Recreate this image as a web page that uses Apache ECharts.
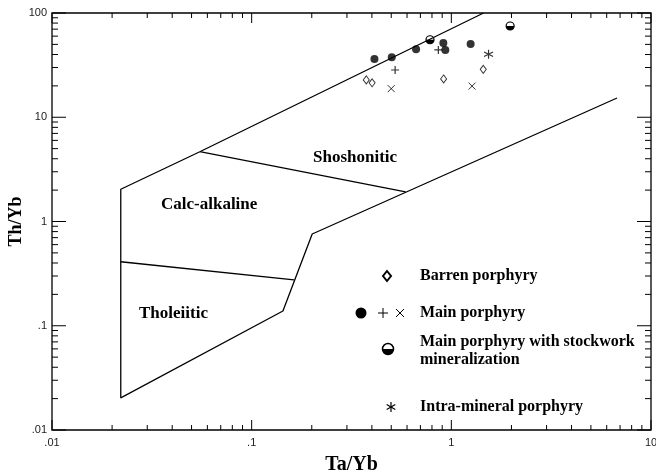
<!DOCTYPE html>
<html>
<head>
<meta charset="utf-8">
<script src="https://cdn.jsdelivr.net/npm/echarts@6/dist/echarts.min.js"></script>
<style>
html, body { margin: 0; padding: 0; background: #fff; }
#chart { width: 656px; height: 475px; }
</style>
</head>
<body>
<div id="chart"></div>
<script>
// field boundaries (Ta/Yb, Th/Yb)
var outerBoundary = [[1.45, 100], [0.055, 4.67], [0.0221, 2.04], [0.0221, 0.0203], [0.1434, 0.1384], [0.201, 0.759], [6.76, 15.3]];
var shoshoniticDivider = [[0.055, 4.67], [0.59, 1.92]];
var tholeiiticDivider = [[0.0221, 0.411], [0.163, 0.275]];

// samples
var barren = [[0.375, 22.8], [0.401, 21.4], [0.915, 23.3], [1.445, 28.8]];
var mainCircle = [[0.412, 36.2], [0.503, 37.6], [0.666, 44.9], [0.912, 51.5], [0.933, 44.2], [1.249, 50.4]];
var mainPlus = [[0.523, 28.4], [0.861, 44.2]];
var mainCross = [[0.50, 18.8], [1.27, 19.9]];
var stockwork = [[0.782, 55.4], [1.97, 75.0]];
var intraMineral = [[1.536, 40.2]];

// axes
var xDecades = [0.01, 0.1, 1, 10];
var yDecades = [0.01, 0.1, 1, 10, 100];
var xTickLabels = ['.01', '.1', '1', '10'];
var yTickLabels = ['.01', '.1', '1', '10', '100'];

var serif = '"Liberation Serif", "Times New Roman", serif';

function buildTicks(decades) {
    var out = [];
    for (var i = 0; i < decades.length; i++) {
        out.push({v: decades[i], major: 1});
        if (i < decades.length - 1) {
            for (var m = 2; m <= 9; m++) out.push({v: m * decades[i], major: 0});
        }
    }
    return out;
}
var xTicks = buildTicks(xDecades);
var yTicks = buildTicks(yDecades);
var xMin = xDecades[0], xMax = xDecades[xDecades.length - 1];
var yMin = yDecades[0], yMax = yDecades[yDecades.length - 1];

function decadeLabel(labels, decades) {
    return function (v) {
        var idx = Math.round(Math.log10(v) - Math.log10(decades[0]));
        return labels[idx] !== undefined ? labels[idx] : '';
    };
}

function tickLine(x1, y1, x2, y2) {
    return {type: 'line', shape: {x1: x1, y1: y1, x2: x2, y2: y2}, style: {stroke: '#000', lineWidth: 1}};
}

var boundaryStyle = {color: '#000', width: 1.3};

var chart = echarts.init(document.getElementById('chart'));
var option = {
    animation: false,
    backgroundColor: '#fff',
    grid: {left: 52, right: 5, top: 13, bottom: 45, containLabel: false, outerBoundsMode: 'none',
        show: true, borderColor: '#000', borderWidth: 1.3},
    xAxis: {
        type: 'log', logBase: 10, min: xMin, max: xMax,
        name: 'Ta/Yb', nameLocation: 'middle', nameGap: 25, nameMoveOverlap: false,
        nameTextStyle: {fontFamily: serif, fontWeight: 'bold', fontSize: 20, color: '#000'},
        axisLine: {show: false}, axisTick: {show: false}, splitLine: {show: false},
        axisLabel: {fontFamily: 'Liberation Sans', fontSize: 11, color: '#222', margin: 7,
            formatter: decadeLabel(xTickLabels, xDecades)}
    },
    yAxis: {
        type: 'log', logBase: 10, min: yMin, max: yMax,
        name: 'Th/Yb', nameLocation: 'middle', nameGap: 27, nameMoveOverlap: false,
        nameTextStyle: {fontFamily: serif, fontWeight: 'bold', fontSize: 18, color: '#000'},
        axisLine: {show: false}, axisTick: {show: false}, splitLine: {show: false},
        axisLabel: {fontFamily: 'Liberation Sans', fontSize: 11, color: '#222', margin: 5,
            formatter: decadeLabel(yTickLabels, yDecades)}
    },
    series: [
        {
            type: 'custom', silent: true,
            data: xTicks.map(function (t) { return [t.v, yMin, t.major]; }),
            encode: {x: 0, y: 1},
            renderItem: function (params, api) {
                var len = api.value(2) ? 10 : 5;
                var b = api.coord([api.value(0), yMin]);
                var t = api.coord([api.value(0), yMax]);
                return {type: 'group', children: [
                    tickLine(b[0], b[1], b[0], b[1] - len),
                    tickLine(t[0], t[1], t[0], t[1] + len)
                ]};
            }
        },
        {
            type: 'custom', silent: true,
            data: yTicks.map(function (t) { return [xMin, t.v, t.major]; }),
            encode: {x: 0, y: 1},
            renderItem: function (params, api) {
                var len = api.value(2) ? 14 : 6;
                var l = api.coord([xMin, api.value(1)]);
                var r = api.coord([xMax, api.value(1)]);
                return {type: 'group', children: [
                    tickLine(l[0], l[1], l[0] + len, l[1]),
                    tickLine(r[0], r[1], r[0] - len, r[1])
                ]};
            }
        },
        {type: 'line', data: outerBoundary, symbol: 'none', silent: true, lineStyle: boundaryStyle},
        {type: 'line', data: shoshoniticDivider, symbol: 'none', silent: true, lineStyle: boundaryStyle},
        {type: 'line', data: tholeiiticDivider, symbol: 'none', silent: true, lineStyle: boundaryStyle},
        {
            name: 'Barren porphyry', type: 'scatter', data: barren,
            symbol: 'diamond', symbolSize: [6, 8],
            itemStyle: {color: '#fff', borderColor: '#000', borderWidth: 1}
        },
        {
            name: 'Main porphyry', type: 'scatter', data: mainCircle,
            symbol: 'circle', symbolSize: 8, itemStyle: {color: '#000'}
        },
        {
            name: 'Main porphyry', type: 'scatter', data: mainPlus,
            symbol: 'path://M5,0L5,10M0,5L10,5', symbolSize: 8,
            itemStyle: {color: '#000', borderColor: '#000', borderWidth: 1.2}
        },
        {
            name: 'Main porphyry', type: 'scatter', data: mainCross,
            symbol: 'path://M0,0L10,10M0,10L10,0', symbolSize: 7,
            itemStyle: {color: '#000', borderColor: '#000', borderWidth: 1}
        },
        {
            name: 'Main porphyry with stockwork mineralization', type: 'custom', data: stockwork,
            encode: {x: 0, y: 1},
            renderItem: function (params, api) {
                var p = api.coord([api.value(0), api.value(1)]);
                return {type: 'group', children: [
                    {type: 'circle', shape: {cx: p[0], cy: p[1], r: 4}, style: {fill: '#fff', stroke: '#000', lineWidth: 1.2}},
                    {type: 'sector', shape: {cx: p[0], cy: p[1], r: 4, r0: 0, startAngle: 0, endAngle: Math.PI}, style: {fill: '#000'}}
                ]};
            }
        },
        {
            name: 'Intra-mineral porphyry', type: 'scatter', data: intraMineral,
            symbol: 'path://M5,0L5,10M0.67,2.5L9.33,7.5M0.67,7.5L9.33,2.5', symbolSize: 9,
            itemStyle: {color: '#000', borderColor: '#000', borderWidth: 1.2}
        }
    ],
    graphic: [
        {type: 'text', x: 313, y: 158, style: {text: 'Shoshonitic', font: 'bold 17px ' + serif, fill: '#000', verticalAlign: 'middle'}},
        {type: 'text', x: 161, y: 205, style: {text: 'Calc-alkaline', font: 'bold 17px ' + serif, fill: '#000', verticalAlign: 'middle'}},
        {type: 'text', x: 139, y: 314, style: {text: 'Tholeiitic', font: 'bold 17px ' + serif, fill: '#000', verticalAlign: 'middle'}},

        // legend
        {type: 'polygon', shape: {points: [[387, 271], [391, 276], [387, 281], [383, 276]]}, style: {fill: '#fff', stroke: '#000', lineWidth: 2}},
        {type: 'text', x: 420, y: 276, style: {text: 'Barren porphyry', font: 'bold 16px ' + serif, fill: '#000', verticalAlign: 'middle'}},

        {type: 'circle', shape: {cx: 361, cy: 313, r: 5.5}, style: {fill: '#000'}},
        {type: 'line', shape: {x1: 378, y1: 313, x2: 388, y2: 313}, style: {stroke: '#000', lineWidth: 1}},
        {type: 'line', shape: {x1: 383, y1: 308, x2: 383, y2: 318}, style: {stroke: '#000', lineWidth: 1}},
        {type: 'line', shape: {x1: 396, y1: 309, x2: 404, y2: 317}, style: {stroke: '#000', lineWidth: 1}},
        {type: 'line', shape: {x1: 396, y1: 317, x2: 404, y2: 309}, style: {stroke: '#000', lineWidth: 1}},
        {type: 'text', x: 420, y: 313, style: {text: 'Main porphyry', font: 'bold 16px ' + serif, fill: '#000', verticalAlign: 'middle'}},

        {type: 'circle', shape: {cx: 388, cy: 349, r: 5.5}, style: {fill: '#fff', stroke: '#000', lineWidth: 1.5}},
        {type: 'sector', shape: {cx: 388, cy: 349, r: 5.5, r0: 0, startAngle: 0, endAngle: Math.PI}, style: {fill: '#000'}},
        {type: 'text', x: 420, y: 342, style: {text: 'Main porphyry with stockwork', font: 'bold 16px ' + serif, fill: '#000', verticalAlign: 'middle'}},
        {type: 'text', x: 420, y: 360, style: {text: 'mineralization', font: 'bold 16px ' + serif, fill: '#000', verticalAlign: 'middle'}},

        {type: 'line', shape: {x1: 391, y1: 402, x2: 391, y2: 412}, style: {stroke: '#000', lineWidth: 1.2}},
        {type: 'line', shape: {x1: 386.7, y1: 404.5, x2: 395.3, y2: 409.5}, style: {stroke: '#000', lineWidth: 1.2}},
        {type: 'line', shape: {x1: 386.7, y1: 409.5, x2: 395.3, y2: 404.5}, style: {stroke: '#000', lineWidth: 1.2}},
        {type: 'text', x: 420, y: 407, style: {text: 'Intra-mineral porphyry', font: 'bold 16px ' + serif, fill: '#000', verticalAlign: 'middle'}}
    ]
};
chart.setOption(option);
</script>
</body>
</html>
